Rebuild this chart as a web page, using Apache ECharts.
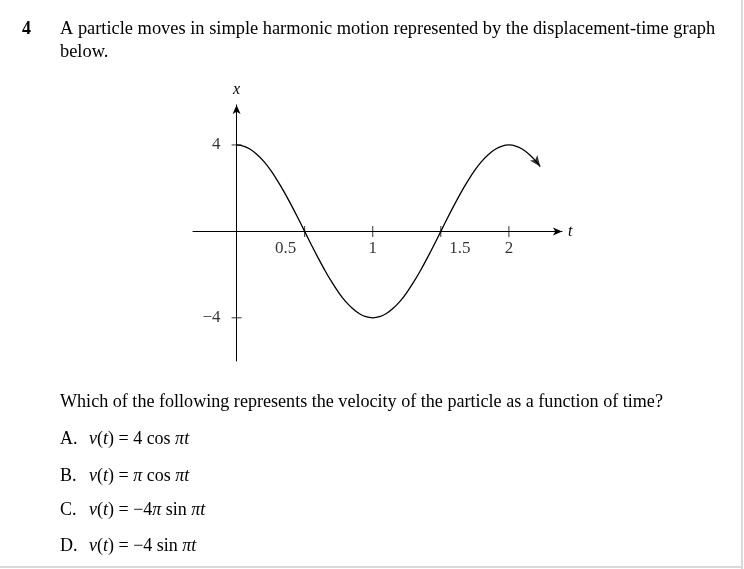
<!DOCTYPE html>
<html>
<head>
<meta charset="utf-8">
<script src="https://cdn.jsdelivr.net/npm/echarts@6/dist/echarts.min.js"></script>
<style>
html,body{margin:0;padding:0;background:#fff;}
#chart{width:744px;height:569px;}
</style>
</head>
<body>
<div id="chart"></div>
<script>
// time values (t) and displacement values (x)
var tValues = [0, 0.05, 0.1, 0.15, 0.2, 0.25, 0.3, 0.35, 0.4, 0.45, 0.5, 0.55, 0.6, 0.65, 0.7, 0.75, 0.8, 0.85, 0.9, 0.95, 1.0,
  1.05, 1.1, 1.15, 1.2, 1.25, 1.3, 1.35, 1.4, 1.45, 1.5, 1.55, 1.6, 1.65, 1.7, 1.75, 1.8, 1.85, 1.9, 1.95, 2.0,
  2.05, 2.1, 2.15, 2.2, 2.23];
var xValues = [4, 3.95, 3.8, 3.56, 3.24, 2.83, 2.35, 1.82, 1.24, 0.63, 0, -0.63, -1.24, -1.82, -2.35, -2.83, -3.24, -3.56, -3.8, -3.95, -4,
  -3.95, -3.8, -3.56, -3.24, -2.83, -2.35, -1.82, -1.24, -0.63, 0, 0.63, 1.24, 1.82, 2.35, 2.83, 3.24, 3.56, 3.8, 3.95, 4,
  3.95, 3.8, 3.56, 3.24, 3.0];
var tTicks = [0.5, 1, 1.5, 2];
var tTickLabels = ['0.5', '1', '1.5', '2'];
var xTicks = [4, -4];
var xTickLabels = ['4', '\u22124'];

var questionNumber = '4';
var stemLines = ['A particle moves in simple harmonic motion represented by the displacement-time graph', 'below.'];
var questionText = 'Which of the following represents the velocity of the particle as a function of time?';
var optionLetters = ['A.', 'B.', 'C.', 'D.'];
var optionRich = [
  '{i|v}({i|t}) = 4 cos {i|\u03c0t}',
  '{i|v}({i|t}) = {i|\u03c0} cos {i|\u03c0t}',
  '{i|v}({i|t}) = \u22124{i|\u03c0} sin {i|\u03c0t}',
  '{i|v}({i|t}) = \u22124 sin {i|\u03c0t}'
];

var FONT = '"Liberation Serif", "DejaVu Serif", serif';
var chart = echarts.init(document.getElementById('chart'));

var curve = tValues.map(function (t, i) { return [t, xValues[i]]; });
var tTickData = tTicks.map(function (t) { return [t, 0]; });
var xTickData = xTicks.map(function (v) { return [0, v]; });
var tLabelOffsets = [[-19, 17], [0, 17], [19, 17], [0, 17]];
var tLabelData = tTicks.map(function (t, i) {
  return { value: [t, 0], label: { show: true, formatter: tTickLabels[i], offset: tLabelOffsets[i] } };
});
var xLabelData = xTicks.map(function (v, i) {
  return { value: [0, v], label: { show: true, formatter: xTickLabels[i] } };
});

var last = curve[curve.length - 1];

var graphics = [
  { type: 'text', left: 22, top: 20, style: { text: questionNumber, font: 'bold 18px ' + FONT, fill: '#000' } },
  { type: 'text', left: 60, top: 20, style: { text: stemLines[0], font: '18.4px ' + FONT, fill: '#000' } },
  { type: 'text', left: 60, top: 43, style: { text: stemLines[1], font: '18.4px ' + FONT, fill: '#000' } },
  { type: 'text', left: 60, top: 393, style: { text: questionText, font: '18.1px ' + FONT, fill: '#000' } },
  { type: 'rect', shape: { x: 741, y: 0, width: 2, height: 569 }, style: { fill: '#d9d9d9' } },
  { type: 'rect', shape: { x: 0, y: 566, width: 743, height: 2 }, style: { fill: '#d9d9d9' } }
];
var optionTops = [430, 467, 501, 537];
optionLetters.forEach(function (l, i) {
  graphics.push({ type: 'text', left: 60, top: optionTops[i], style: { text: l, font: '18px ' + FONT, fill: '#000' } });
  graphics.push({ type: 'text', left: 89, top: optionTops[i], style: {
    text: optionRich[i], font: '18px ' + FONT, fill: '#000',
    rich: { i: { fontStyle: 'italic', fontSize: 18, fontFamily: FONT } }
  } });
});

chart.setOption({
  animation: false,
  backgroundColor: '#fff',
  textStyle: { fontFamily: FONT },
  grid: { left: 193, right: 182, top: 105, bottom: 208 },
  xAxis: {
    type: 'value', min: -0.32, max: 2.39,
    axisLine: { onZero: true, lineStyle: { color: '#000', width: 1 }, symbol: ['none', 'arrow'], symbolSize: [6, 9] },
    axisTick: { show: false }, axisLabel: { show: false }, splitLine: { show: false },
    name: 't', nameLocation: 'end', nameGap: 6,
    nameTextStyle: { fontStyle: 'italic', fontSize: 16, color: '#000', fontFamily: FONT }
  },
  yAxis: {
    type: 'value', min: -6, max: 5.85,
    axisLine: { onZero: true, lineStyle: { color: '#000', width: 1 }, symbol: ['none', 'arrow'], symbolSize: [6, 9] },
    axisTick: { show: false }, axisLabel: { show: false }, splitLine: { show: false },
    name: 'x', nameLocation: 'end', nameGap: 7,
    nameTextStyle: { fontStyle: 'italic', fontSize: 16, color: '#000', fontFamily: FONT, align: 'center' }
  },
  series: [
    { type: 'line', data: curve, smooth: 0.3, showSymbol: false, symbol: 'none',
      lineStyle: { color: '#000', width: 1.3 }, silent: true, z: 3 },
    { type: 'scatter', data: [last], symbol: 'arrow', symbolSize: [7, 11], symbolRotate: -143,
      itemStyle: { color: '#000' }, silent: true, z: 4 },
    { type: 'scatter', data: tTickData, symbol: 'rect', symbolSize: [1, 11], itemStyle: { color: '#000' }, silent: true },
    { type: 'scatter', data: xTickData, symbol: 'rect', symbolSize: [10, 1], itemStyle: { color: '#000' }, silent: true },
    { type: 'scatter', data: tLabelData, symbolSize: 0, silent: true,
      label: { show: true, position: 'inside', color: '#000', fontSize: 17, fontFamily: FONT } },
    { type: 'scatter', data: xLabelData, symbolSize: 0, silent: true,
      label: { show: true, position: 'left', distance: 16, color: '#000', fontSize: 17, fontFamily: FONT } }
  ],
  graphic: graphics
});
</script>
</body>
</html>
